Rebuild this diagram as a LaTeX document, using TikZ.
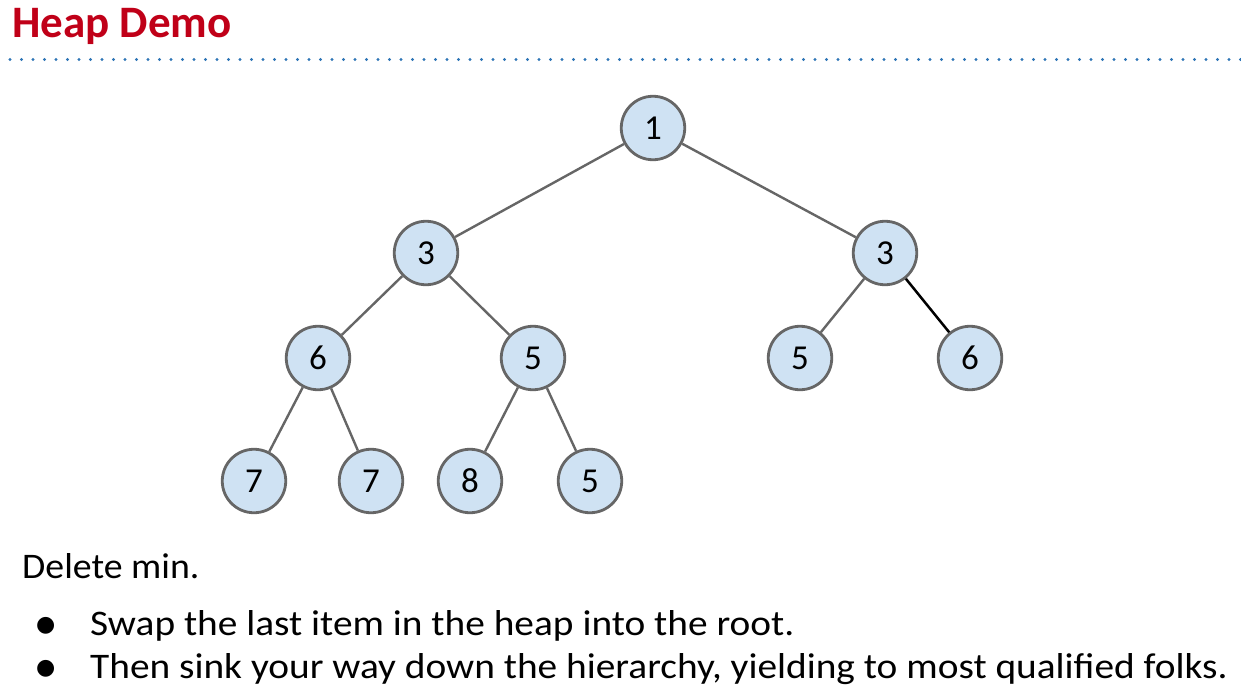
\documentclass[tikz,border=0pt]{standalone}
\usepackage{fontspec}
\setmainfont{Carlito}
\newfontfamily\symfont{DejaVu Sans}
\definecolor{titlered}{HTML}{C00018}
\definecolor{dotblue}{HTML}{2E75B6}
\definecolor{nodefill}{HTML}{CFE2F3}
\definecolor{nodeedge}{HTML}{666666}
\begin{document}
\begin{tikzpicture}[x=1pt,y=-1pt,
  hnode/.style={circle,draw=nodeedge,line width=2.8pt,fill=nodefill,minimum size=63.5pt,inner sep=0pt,font=\fontsize{35}{36}\selectfont},
  edge/.style={draw=nodeedge,line width=2.4pt},
  hot/.style={draw=black,line width=2.5pt},
  body/.style={anchor=base west,inner sep=0pt,font=\fontsize{36}{40}\selectfont}]
\useasboundingbox (0,0) rectangle (1241,688);
\node[anchor=base west,inner sep=0pt,text=titlered,font=\fontsize{45}{48}\selectfont\bfseries] (title) at (12,37) {Heap Demo};
\coordinate (dl) at (10,59.5);
\coordinate (dr) at (1241,59.5);
\draw[dotblue,line width=3.2pt,line cap=round,dash pattern=on 0pt off 11.5pt] (dl) -- (dr);
\node[hnode] (n1) at (653,128) {1};
\node[hnode] (n2) at (426,253) {3};
\node[hnode] (n3) at (885,253) {3};
\node[hnode] (n4) at (318,358) {6};
\node[hnode] (n5) at (533,358) {5};
\node[hnode] (n6) at (800,358) {5};
\node[hnode] (n7) at (970,358) {6};
\node[hnode] (n8) at (254,481) {7};
\node[hnode] (n9) at (371,481) {7};
\node[hnode] (n10) at (470,481) {8};
\node[hnode] (n11) at (590,481) {5};
\draw[edge] (n1) -- (n2);
\draw[edge] (n1) -- (n3);
\draw[edge] (n2) -- (n4);
\draw[edge] (n2) -- (n5);
\draw[edge] (n3) -- (n6);
\draw[hot] (n3) -- (n7);
\draw[edge] (n4) -- (n8);
\draw[edge] (n4) -- (n9);
\draw[edge] (n5) -- (n10);
\draw[edge] (n5) -- (n11);
\node[body,xscale=1.05,transform shape] (t0) at (22,578) {Delete min.};
\node[body] (b1) at (36,631) {{\symfont\fontsize{22}{24}\selectfont ●}};
\node[body,xscale=1.093,transform shape] (t1) at (90,635) {Swap the last item in the heap into the root.};
\node[body] (b2) at (36,674) {{\symfont\fontsize{22}{24}\selectfont ●}};
\node[body,xscale=1.093,transform shape] (t2) at (90,678) {Then sink your way down the hierarchy, yielding to most qualified folks.};
\end{tikzpicture}
\end{document}
